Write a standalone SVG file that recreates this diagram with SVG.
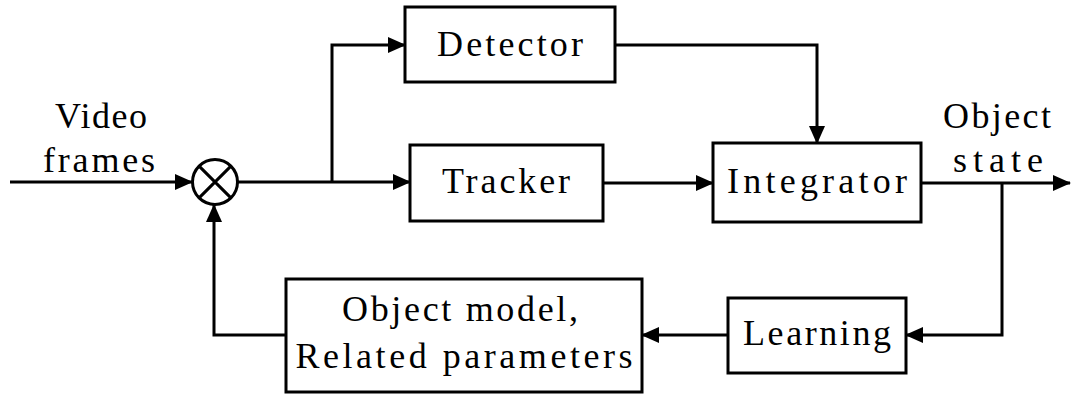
<svg xmlns="http://www.w3.org/2000/svg" width="1072" height="395" viewBox="0 0 1072 395">
  <style>
    .box { fill: #fff; stroke: #000; stroke-width: 3; }
    .wire { fill: none; stroke: #000; stroke-width: 3; }
    .lbl { font-family: "Liberation Serif", "DejaVu Serif", serif; font-size: 36px; fill: #000; text-anchor: middle; }
  </style>
  <defs>
    <marker id="arrow" markerUnits="userSpaceOnUse" markerWidth="18" markerHeight="16" refX="17" refY="8" orient="auto">
      <path d="M0,0 L18,8 L0,16 Z" fill="#000"/>
    </marker>
  </defs>
  <rect width="1072" height="395" fill="#fff"/>

  <!-- connectors -->
  <g id="connectors">
    <path class="wire" d="M10,182 H192" marker-end="url(#arrow)"/>
    <path class="wire" d="M238,182 H410" marker-end="url(#arrow)"/>
    <path class="wire" d="M332,182 V45 H405" marker-end="url(#arrow)"/>
    <path class="wire" d="M615,45 H817 V143" marker-end="url(#arrow)"/>
    <path class="wire" d="M603,183 H713" marker-end="url(#arrow)"/>
    <path class="wire" d="M921,183 H1070" marker-end="url(#arrow)"/>
    <path class="wire" d="M1002,183 V335 H906" marker-end="url(#arrow)"/>
    <path class="wire" d="M728,335 H642" marker-end="url(#arrow)"/>
    <path class="wire" d="M286,335 H214 V205" marker-end="url(#arrow)"/>
  </g>

  <!-- input / output labels -->
  <g id="labels">
    <text class="lbl" x="101" y="128" textLength="92" lengthAdjust="spacing">Video</text>
    <text class="lbl" x="99" y="172" textLength="112" lengthAdjust="spacing">frames</text>
    <text class="lbl" x="997" y="128" textLength="108" lengthAdjust="spacing">Object</text>
    <text class="lbl" x="998" y="172" textLength="90" lengthAdjust="spacing">state</text>
  </g>

  <!-- summing junction -->
  <g id="junction">
    <circle cx="215" cy="182" r="22.5" fill="#fff" stroke="#000" stroke-width="3"/>
    <path class="wire" d="M199.1,166.1 L230.9,197.9 M230.9,166.1 L199.1,197.9"/>
  </g>

  <g id="detector">
    <rect class="box" x="405" y="7" width="210" height="75"/>
    <text class="lbl" x="510" y="56" textLength="146" lengthAdjust="spacing">Detector</text>
  </g>

  <g id="tracker">
    <rect class="box" x="410" y="145" width="193" height="76"/>
    <text class="lbl" x="506" y="193" textLength="128" lengthAdjust="spacing">Tracker</text>
  </g>

  <g id="integrator">
    <rect class="box" x="713" y="143" width="208" height="79"/>
    <text class="lbl" x="817" y="193" textLength="180" lengthAdjust="spacing">Integrator</text>
  </g>

  <g id="learning">
    <rect class="box" x="728" y="298" width="178" height="75"/>
    <text class="lbl" x="817" y="345" textLength="148" lengthAdjust="spacing">Learning</text>
  </g>

  <g id="object-model">
    <rect class="box" x="286" y="279" width="356" height="113"/>
    <text class="lbl" x="460" y="321" textLength="236" lengthAdjust="spacing">Object model,</text>
    <text class="lbl" x="464" y="368" textLength="337" lengthAdjust="spacing">Related parameters</text>
  </g>
</svg>
